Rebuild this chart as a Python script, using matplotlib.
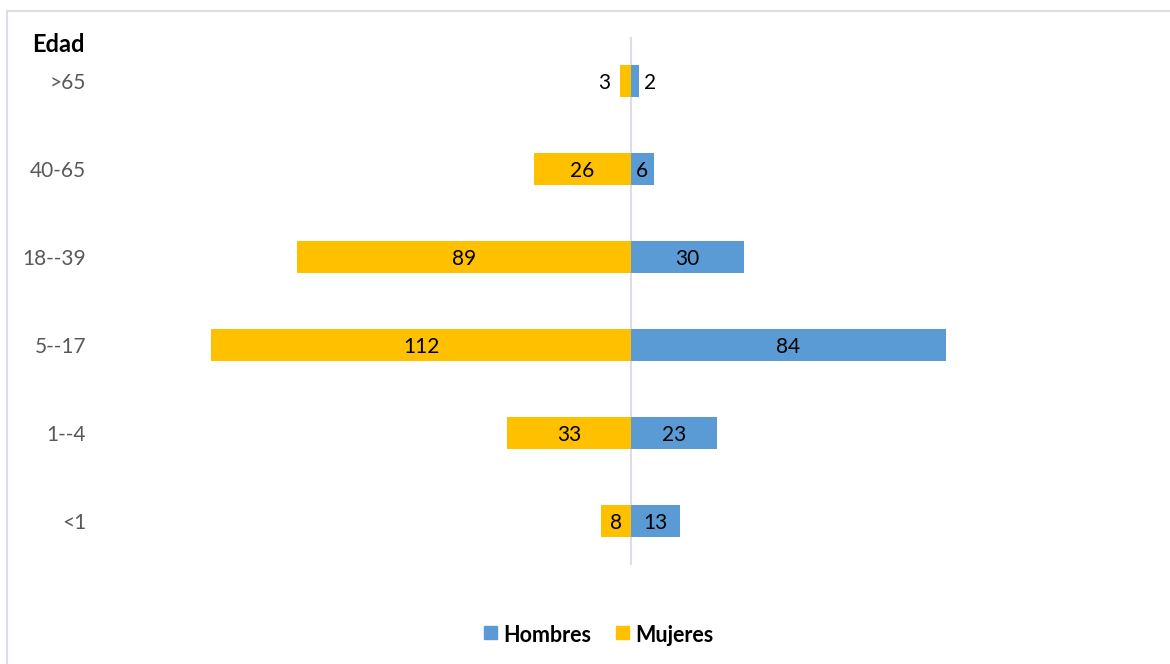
import matplotlib.pyplot as plt
from matplotlib.patches import Rectangle

# age groups, bottom to top
edades = ['<1', '1--4', '5--17', '18--39', '40-65', '>65']
hombres = [13, 23, 84, 30, 6, 2]
mujeres = [8, 33, 112, 89, 26, 3]

azul = '#5B9BD5'
amarillo = '#FFC000'

plt.rcParams['font.family'] = ['Lato', 'DejaVu Sans']

W, H = 1170, 664
fig = plt.figure(figsize=(W / 100, H / 100), dpi=100)

# axes placed in pixel coords: center line at x=631, 3.75 px per unit
left_px, right_px, top_px, bot_px = 100, 1160, 37, 565
ax = fig.add_axes([left_px / W, 1 - bot_px / H, (right_px - left_px) / W, (bot_px - top_px) / H])
ppu = 3.75
ax.set_xlim(-(631 - left_px) / ppu, (right_px - 631) / ppu)
ax.set_ylim(-0.5, len(edades) - 0.5)

y = range(len(edades))
bh = 0.36
ax.barh(y, [-m for m in mujeres], height=bh, color=amarillo, zorder=2)
ax.barh(y, hombres, height=bh, color=azul, zorder=2)
ax.axvline(0, color='#D9DEE6', lw=1.5, zorder=1)

# value labels
fs = 15
for i in y:
    m = mujeres[i]
    if m * ppu > 20:
        ax.text(-m / 2, i, str(m), ha='center', va='center_baseline', fontsize=fs, color='black', zorder=3)
    else:
        ax.text(-m - 2.4, i, str(m), ha='right', va='center_baseline', fontsize=fs, color='black', zorder=3)
    h = hombres[i]
    if h * ppu > 20:
        ax.text(h / 2, i, str(h), ha='center', va='center_baseline', fontsize=fs, color='black', zorder=3)
    else:
        ax.text(h + 1.5, i, str(h), ha='left', va='center_baseline', fontsize=fs, color='black', zorder=3)

ax.set_yticks(list(y))
ax.set_yticklabels(edades, fontsize=15, color='#595959', va='center_baseline')
ax.tick_params(axis='y', length=0, pad=10)
ax.set_xticks([])
for s in ax.spines.values():
    s.set_visible(False)

fig.text(32 / W, 1 - 42 / H, 'Edad', fontsize=17, fontweight='bold', ha='left', va='center_baseline')

# legend
fig.patches.append(Rectangle((484 / W, 1 - 639 / H), 13 / W, 13 / H, transform=fig.transFigure,
                             color=azul, figure=fig))
fig.text(503 / W, 1 - 633 / H, 'Hombres', fontsize=15.5, fontweight='bold', ha='left', va='center_baseline')
fig.patches.append(Rectangle((616 / W, 1 - 639 / H), 13 / W, 13 / H, transform=fig.transFigure,
                             color=amarillo, figure=fig))
fig.text(635 / W, 1 - 633 / H, 'Mujeres', fontsize=15.5, fontweight='bold', ha='left', va='center_baseline')

# chart border
fig.patches.append(Rectangle((7 / W, -0.05), 1.1, 1 - 11 / H + 0.05, transform=fig.transFigure,
                             fill=False, edgecolor='#D9DEE6', lw=1.5, figure=fig))

fig.savefig('out.png', dpi=100)
